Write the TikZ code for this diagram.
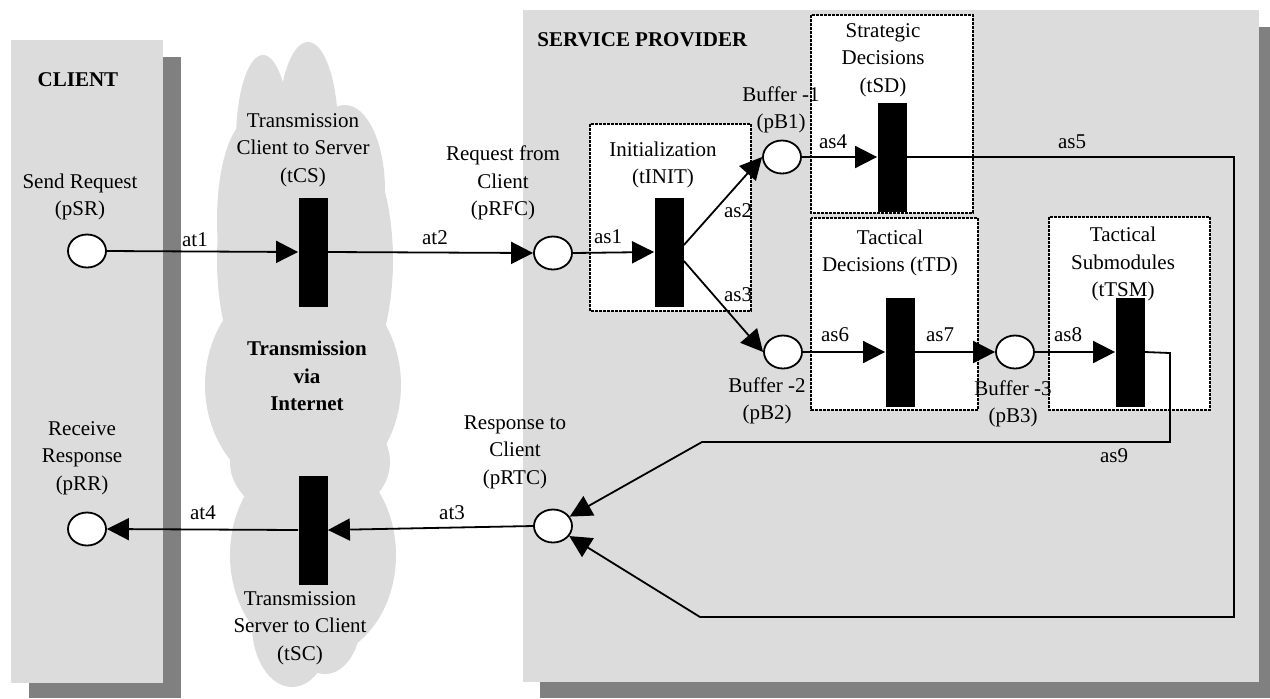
\documentclass[tikz,border=0pt]{standalone}
\usepackage{fontspec}
\setmainfont{Liberation Serif}
\usetikzlibrary{arrows.meta,calc,shapes.geometric}
\definecolor{panel}{HTML}{DCDCDC}
\definecolor{shadowgray}{HTML}{808080}
\begin{document}
\begin{tikzpicture}[x=0.5pt,y=-0.5pt,
  font=\fontsize{10.5}{13.75}\selectfont,
  place/.style={ellipse, draw=black, line width=0.9pt, fill=white, minimum width=19pt, minimum height=16.5pt, inner sep=0pt},
  bar/.style={rectangle, fill=black, minimum width=14.5pt, minimum height=54.5pt, inner sep=0pt},
  lbl/.style={inner sep=0pt, align=center},
  arc/.style={line width=0.9pt, -{Triangle[length=11pt,width=11pt]}},
  dotbox/.style={draw=black, fill=white, line width=1.4pt, dash pattern=on 1.4pt off 0.6pt},
  cloudpart/.style={fill=panel},
]
\useasboundingbox (0,0) rectangle (1270,698);
% panels with shadows
\fill[shadowgray] (29,57) rectangle (181,698);
\fill[panel] (11,40) rectangle (163,683);
\fill[shadowgray] (540,27) rectangle (1270,698);
\fill[panel] (523,10) rectangle (1259,682);
% cloud, built from overlapping lobes
\fill[cloudpart] (263,140) ellipse [x radius=13.5pt, y radius=42.5pt];
\fill[cloudpart] (308,130) ellipse [x radius=15pt, y radius=44pt];
\fill[cloudpart] (345,190) ellipse [x radius=20pt, y radius=42.5pt];
\fill[cloudpart] (250,220) ellipse [x radius=16.5pt, y radius=50pt];
\fill[cloudpart] (305,260) ellipse [x radius=44pt, y radius=82pt];
\fill[cloudpart] (303,385) ellipse [x radius=49pt, y radius=56pt];
\fill[cloudpart] (310,462) ellipse [x radius=40pt, y radius=30pt];
\fill[cloudpart] (313,555) ellipse [x radius=41.5pt, y radius=52pt];
\fill[cloudpart] (292,625) ellipse [x radius=20pt, y radius=31pt];
\fill[cloudpart] (325,620) ellipse [x radius=18pt, y radius=27pt];
% dotted module boxes
\draw[dotbox] (590,124) rectangle (751,311);
\draw[dotbox] (811,15) rectangle (973,213);
\draw[dotbox] (811,218) rectangle (978,410);
\draw[dotbox] (1049,217) rectangle (1210,410);
% places
\node[place] (pSR) at (87,251) {};
\node[place] (pRR) at (87,529) {};
\node[place] (pRFC) at (553,253) {};
\node[place] (pB1) at (782,157) {};
\node[place] (pB2) at (783,352) {};
\node[place] (pB3) at (1015,352) {};
\node[place] (pRTC) at (553,526) {};
% transitions
\node[bar] (tCS) at (313,252) {};
\node[bar] (tSC) at (313,530) {};
\node[bar] (tINIT) at (669,252) {};
\node[bar] (tSD) at (892,157) {};
\node[bar] (tTD) at (900,352) {};
\node[bar] (tTSM) at (1130,352) {};
% route corners
\coordinate (c5a) at (1234,157);
\coordinate (c5b) at (1234,617);
\coordinate (c5c) at (700,617);
\coordinate (c9a) at (1170,353);
\coordinate (c9b) at (1170,442);
\coordinate (c9c) at (702,442);
% connectors
\draw[arc] (pSR.east) -- (tCS.west);
\draw[arc] (tCS.east) -- (pRFC.west);
\draw[arc] (pRFC.east) -- (tINIT.west);
\draw[arc] ([yshift=3.5pt]tINIT.east) -- (pB1.west);
\draw[arc] ([yshift=-4.5pt]tINIT.east) -- (pB2.west);
\draw[arc] (pB1.east) -- (tSD.west);
\draw[arc] (tSD.east) -- (c5a) -- (c5b) -- (c5c) -- (pRTC);
\draw[arc] (pB2.east) -- (tTD.west);
\draw[arc] (tTD.east) -- (pB3.west);
\draw[arc] (pB3.east) -- (tTSM.west);
\draw[arc] (tTSM.east) -- (c9a) -- (c9b) -- (c9c) -- (pRTC);
\draw[arc] (pRTC.west) -- (tSC.east);
\draw[arc] (tSC.west) -- (pRR.east);
% labels
\node[lbl, font=\fontsize{10.5}{13.75}\selectfont\bfseries] (lclient) at (78,80) {CLIENT};
\node[lbl] (lpSR) at (80,197) {Send Request\\(pSR)};
\node[lbl] (lpRR) at (82,458) {Receive\\Response\\(pRR)};
\node[lbl] (lat1) at (195,240) {at1};
\node[lbl] (lat4) at (203,513) {at4};
\node[lbl] (ltCS) at (303,150) {Transmission\\Client to Server\\(tCS)};
\node[lbl, font=\fontsize{10.5}{13.75}\selectfont\bfseries] (lnet) at (307,376) {Transmission\\via\\Internet};
\node[lbl] (ltSC) at (300,628) {Transmission\\Server to Client\\(tSC)};
\node[lbl] (lat2) at (435,238) {at2};
\node[lbl, font=\fontsize{10.5}{13.75}\selectfont\bfseries, anchor=west] (lsp) at (537,40) {SERVICE PROVIDER};
\node[lbl] (lpRFC) at (503,183) {Request from\\Client\\(pRFC)};
\node[lbl] (ltINIT) at (663,165) {Initialization\\(tINIT)};
\node[lbl] (las1) at (608,237) {as1};
\node[lbl] (las2) at (738,211) {as2};
\node[lbl] (las3) at (738,295) {as3};
\node[lbl] (lpB1) at (781,110) {Buffer -1\\(pB1)};
\node[lbl] (ltSD) at (883,60) {Strategic\\Decisions\\(tSD)};
\node[lbl] (las4) at (833,142) {as4};
\node[lbl] (las5) at (1072,142) {as5};
\node[lbl] (ltTD) at (890,253) {Tactical\\Decisions (tTD)};
\node[lbl] (ltTSM) at (1123,264) {Tactical\\Submodules\\(tTSM)};
\node[lbl] (las6) at (835,335) {as6};
\node[lbl] (las7) at (940,335) {as7};
\node[lbl] (las8) at (1068,335) {as8};
\node[lbl] (lpB2) at (767,401) {Buffer -2\\(pB2)};
\node[lbl] (lpB3) at (1013,404) {Buffer -3\\(pB3)};
\node[lbl] (las9) at (1114,456) {as9};
\node[lbl] (lpRTC) at (515,452) {Response to\\Client\\(pRTC)};
\node[lbl] (lat3) at (452,513) {at3};
\end{tikzpicture}
\end{document}
